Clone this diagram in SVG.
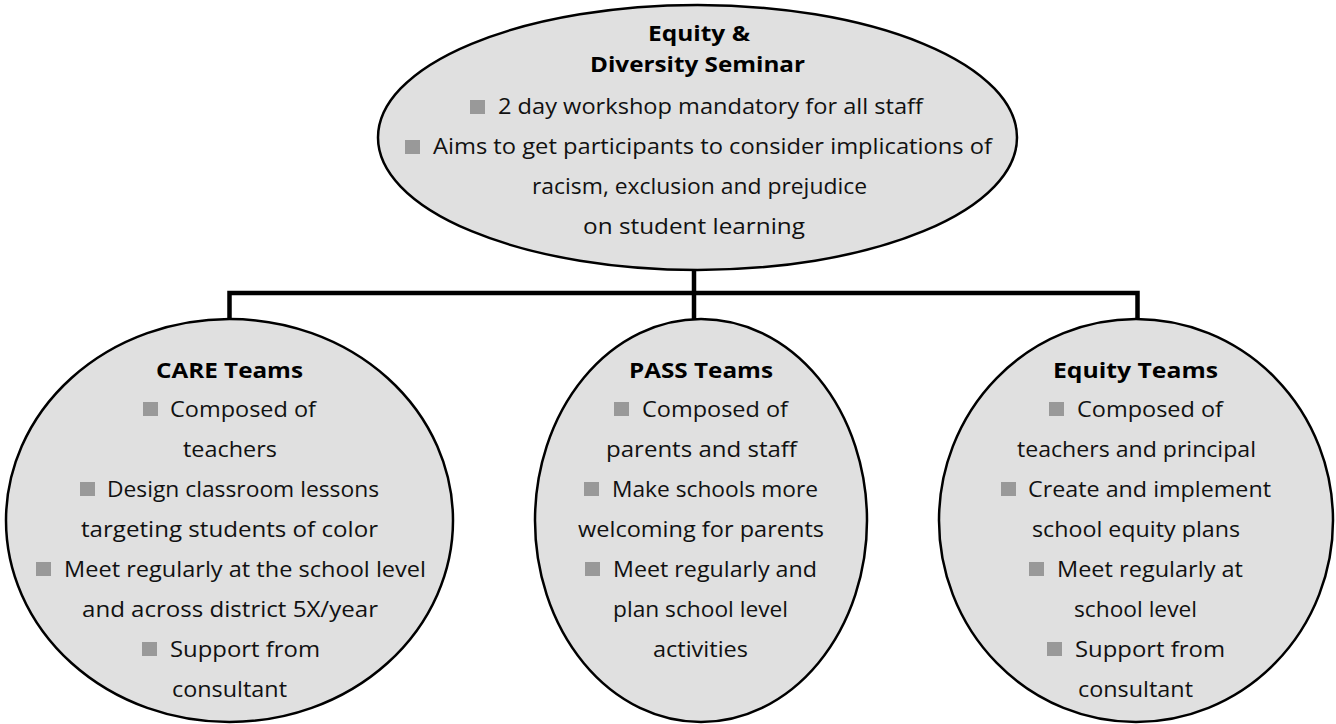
<svg xmlns="http://www.w3.org/2000/svg" width="1336" height="724" viewBox="0 0 1336 724">
<style>
.node{fill:#e0e0e0;stroke:#000;stroke-width:2.5}
.t{font-family:"Open Sans","Noto Sans","Liberation Sans",sans-serif;font-size:21px;fill:#111}
.b{font-family:"Open Sans","Noto Sans","Liberation Sans",sans-serif;font-size:21px;font-weight:bold;fill:#000}
.sq{fill:#999}
.conn{fill:none;stroke:#000;stroke-width:4.5;stroke-linejoin:miter}
</style>
<rect width="1336" height="724" fill="#fff"/>
<g id="connectors">
<path class="conn" d="M694 270 V319"/>
<path class="conn" d="M229.5 319 V293 H1137.5 V319"/>
</g>
<g id="seminar">
<ellipse class="node" cx="697.5" cy="137.5" rx="319.5" ry="132.5"/>
<text class="b" x="648" y="41" textLength="102" lengthAdjust="spacingAndGlyphs">Equity &amp;</text>
<text class="b" x="590" y="72" textLength="215" lengthAdjust="spacingAndGlyphs">Diversity Seminar</text>
<rect class="sq" x="470" y="100" width="15" height="14"/>
<text class="t" x="498" y="114" textLength="425" lengthAdjust="spacingAndGlyphs">2 day workshop mandatory for all staff</text>
<rect class="sq" x="405" y="140" width="15" height="14"/>
<text class="t" x="433" y="154" textLength="559" lengthAdjust="spacingAndGlyphs">Aims to get participants to consider implications of</text>
<text class="t" x="532" y="194" textLength="335" lengthAdjust="spacingAndGlyphs">racism, exclusion and prejudice</text>
<text class="t" x="583" y="234" textLength="222" lengthAdjust="spacingAndGlyphs">on student learning</text>
</g>
<g id="care">
<ellipse class="node" cx="229.5" cy="520.5" rx="223.5" ry="201.5"/>
<text class="b" x="156" y="378" textLength="147" lengthAdjust="spacingAndGlyphs">CARE Teams</text>
<rect class="sq" x="143" y="402" width="15" height="14"/>
<text class="t" x="170" y="417" textLength="146" lengthAdjust="spacingAndGlyphs">Composed of</text>
<text class="t" x="183" y="457" textLength="94" lengthAdjust="spacingAndGlyphs">teachers</text>
<rect class="sq" x="80" y="482" width="15" height="14"/>
<text class="t" x="107" y="497" textLength="272" lengthAdjust="spacingAndGlyphs">Design classroom lessons</text>
<text class="t" x="81" y="537" textLength="297" lengthAdjust="spacingAndGlyphs">targeting students of color</text>
<rect class="sq" x="36" y="562" width="15" height="14"/>
<text class="t" x="64" y="577" textLength="362" lengthAdjust="spacingAndGlyphs">Meet regularly at the school level</text>
<text class="t" x="82" y="617" textLength="296" lengthAdjust="spacingAndGlyphs">and across district 5X/year</text>
<rect class="sq" x="142" y="642" width="15" height="14"/>
<text class="t" x="170" y="657" textLength="150" lengthAdjust="spacingAndGlyphs">Support from</text>
<text class="t" x="172" y="697" textLength="115" lengthAdjust="spacingAndGlyphs">consultant</text>
</g>
<g id="pass">
<ellipse class="node" cx="701" cy="520.5" rx="166" ry="201.5"/>
<text class="b" x="629" y="378" textLength="144" lengthAdjust="spacingAndGlyphs">PASS Teams</text>
<rect class="sq" x="614" y="402" width="15" height="14"/>
<text class="t" x="642" y="417" textLength="146" lengthAdjust="spacingAndGlyphs">Composed of</text>
<text class="t" x="606" y="457" textLength="191" lengthAdjust="spacingAndGlyphs">parents and staff</text>
<rect class="sq" x="584" y="482" width="15" height="14"/>
<text class="t" x="612" y="497" textLength="206" lengthAdjust="spacingAndGlyphs">Make schools more</text>
<text class="t" x="578" y="537" textLength="246" lengthAdjust="spacingAndGlyphs">welcoming for parents</text>
<rect class="sq" x="585" y="562" width="15" height="14"/>
<text class="t" x="613" y="577" textLength="204" lengthAdjust="spacingAndGlyphs">Meet regularly and</text>
<text class="t" x="613" y="617" textLength="175" lengthAdjust="spacingAndGlyphs">plan school level</text>
<text class="t" x="653" y="657" textLength="95" lengthAdjust="spacingAndGlyphs">activities</text>
</g>
<g id="equity">
<ellipse class="node" cx="1136" cy="520.5" rx="197" ry="201.5"/>
<text class="b" x="1053" y="378" textLength="165" lengthAdjust="spacingAndGlyphs">Equity Teams</text>
<rect class="sq" x="1049" y="402" width="15" height="14"/>
<text class="t" x="1077" y="417" textLength="146" lengthAdjust="spacingAndGlyphs">Composed of</text>
<text class="t" x="1017" y="457" textLength="239" lengthAdjust="spacingAndGlyphs">teachers and principal</text>
<rect class="sq" x="1001" y="482" width="15" height="14"/>
<text class="t" x="1028" y="497" textLength="243" lengthAdjust="spacingAndGlyphs">Create and implement</text>
<text class="t" x="1032" y="537" textLength="208" lengthAdjust="spacingAndGlyphs">school equity plans</text>
<rect class="sq" x="1029" y="562" width="15" height="14"/>
<text class="t" x="1057" y="577" textLength="186" lengthAdjust="spacingAndGlyphs">Meet regularly at</text>
<text class="t" x="1074" y="617" textLength="123" lengthAdjust="spacingAndGlyphs">school level</text>
<rect class="sq" x="1047" y="642" width="15" height="14"/>
<text class="t" x="1075" y="657" textLength="150" lengthAdjust="spacingAndGlyphs">Support from</text>
<text class="t" x="1078" y="697" textLength="115" lengthAdjust="spacingAndGlyphs">consultant</text>
</g>
</svg>
